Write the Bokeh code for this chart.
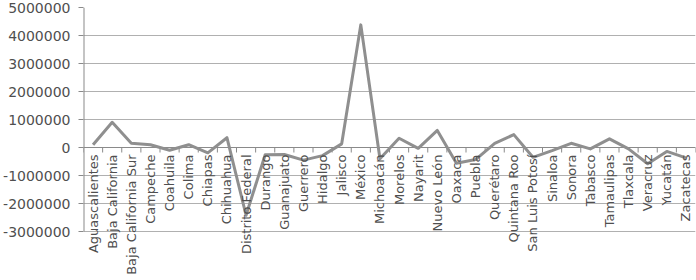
import math
from bokeh.plotting import figure
from bokeh.models import Range1d, FixedTicker, NumeralTickFormatter, ColumnDataSource, LabelSet
from bokeh.core.properties import value
from bokeh.embed import file_html
from bokeh.resources import INLINE

states = ["Aguascalientes", "Baja California", "Baja California Sur", "Campeche", "Coahuila",
          "Colima", "Chiapas", "Chihuahua", "Distrito Federal", "Durango", "Guanajuato",
          "Guerrero", "Hidalgo", "Jalisco", "México", "Michoacán", "Morelos", "Nayarit",
          "Nuevo León", "Oaxaca", "Puebla", "Querétaro", "Quintana Roo", "San Luis Potosí",
          "Sinaloa", "Sonora", "Tabasco", "Tamaulipas", "Tlaxcala", "Veracruz", "Yucatán",
          "Zacatecas"]
values = [100000, 900000, 150000, 100000, -100000, 100000, -190000, 350000, -2420000,
          -260000, -250000, -450000, -290000, 130000, 4380000, -400000, 330000, -30000,
          610000, -560000, -430000, 150000, 460000, -350000, -110000, 150000, -50000,
          310000, -50000, -580000, -140000, -370000]
y_ticks = [-3000000, -2000000, -1000000, 0, 1000000, 2000000, 3000000, 4000000, 5000000]

n = len(states)
W, H = 696, 280
TOP, LEFT, RIGHT = 7, 81, 1
PX_PER_UNIT = 28 / 1000000          # vertical scale of the value axis
TICK_PX = 5

y_top = y_ticks[-1]
y_bottom = y_top - (H - TOP) / PX_PER_UNIT   # frame reaches the bottom so the labels fit
tick_len = TICK_PX / PX_PER_UNIT

xs = [i + 0.5 for i in range(n)]
src = ColumnDataSource(dict(x=xs, y=values, name=states, zero=[0] * n))
bounds = list(range(n + 1))

FONT = "DejaVu Sans"
TXT = "#4f4f4f"
AX = "#8a8a8a"

p = figure(width=W, height=H, output_backend="svg", toolbar_location=None,
           x_range=Range1d(0, n), y_range=Range1d(y_bottom, y_top),
           min_border_left=LEFT, min_border_right=RIGHT, min_border_top=TOP, min_border_bottom=0)
p.outline_line_color = None
p.background_fill_color = "white"

p.xaxis.visible = False
p.xgrid.visible = False
p.ygrid.ticker = FixedTicker(ticks=y_ticks)
p.ygrid.grid_line_color = "#b0b0b0"
p.ygrid.grid_line_width = 1

p.yaxis.ticker = FixedTicker(ticks=y_ticks)
p.yaxis.formatter = NumeralTickFormatter(format="0")
p.yaxis.axis_line_color = None
p.yaxis.major_tick_line_color = AX
p.yaxis.major_tick_in = 0
p.yaxis.major_tick_out = TICK_PX
p.yaxis.minor_tick_line_color = None
p.yaxis.major_label_standoff = 8
p.yaxis.major_label_text_font = FONT
p.yaxis.major_label_text_font_size = "14px"
p.yaxis.major_label_text_color = TXT

# value axis line (only over the tick span)
p.segment(x0=[0], y0=[y_ticks[0]], x1=[0], y1=[y_ticks[-1]], line_color=AX, line_width=2)
# category axis at zero with tick marks at category boundaries
p.segment(x0=[0], y0=[0], x1=[n], y1=[0], line_color=AX, line_width=1)
p.segment(x0=bounds, y0=[0] * len(bounds), x1=bounds, y1=[-tick_len] * len(bounds),
          line_color=AX, line_width=1)

p.line("x", "y", source=src, line_color="#8f8f8f", line_width=3, line_join="round")

labels = LabelSet(x="x", y="zero", text="name", source=src, angle=math.pi / 2,
                  text_align="right", text_baseline="middle", y_offset=-7,
                  text_font=value(FONT), text_font_size=value("13px"), text_color=TXT)
p.add_layout(labels)

open("out.html", "w").write(file_html(p, INLINE))
